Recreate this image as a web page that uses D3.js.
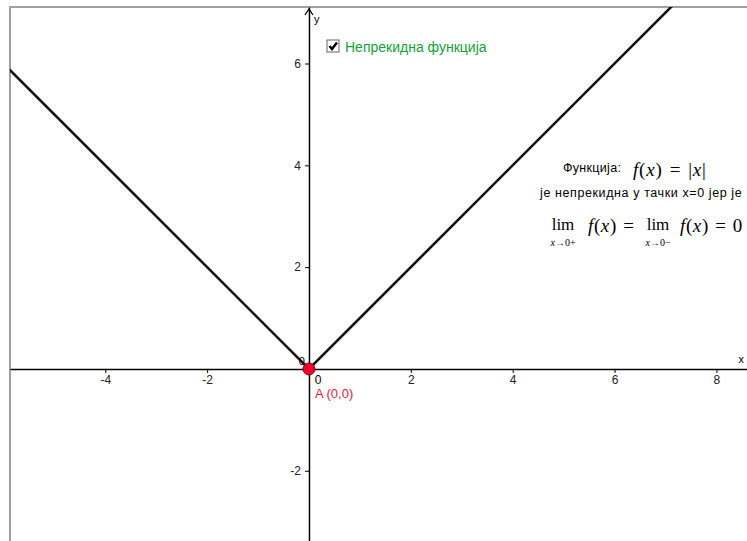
<!DOCTYPE html>
<html>
<head>
<meta charset="utf-8">
<script src="https://cdn.jsdelivr.net/npm/d3@7"></script>
<style>
  body { margin: 0; background: #fff; }
  svg { display: block; }
</style>
</head>
<body>
<svg id="chart" width="747" height="541"></svg>
<script>
// view window (graphics view of the applet)
const xView = [-5.87, 8.6]
const yView = [-3.38, 7.11]

const xTicks = [-4, -2, 2, 4, 6, 8]
const yTicks = [-2, 2, 4, 6]

// f(x) = |x|, vertices of the polyline
const curveX = [-6, 0, 8]
const curveY = [6, 0, 8]

const pointA = { name: "A", x: 0, y: 0 }

const checkboxLabel = "Непрекидна функција"
const textWord = "Функција:"
const textLine2 = "је непрекидна у тачки x=0 јер је"

const width = 747
const height = 541
const margin = { top: 7, left: 10, right: 0, bottom: 0 }

const sans = "'Liberation Sans', Arial, sans-serif"
const serif = "'Liberation Serif', 'DejaVu Serif', serif"

let svg = d3.select("#chart")

const xScale = d3.scaleLinear().domain(xView).range([margin.left, width - margin.right])
const yScale = d3.scaleLinear().domain(yView).range([height - margin.bottom, margin.top])

svg.append("defs").append("clipPath").attr("id", "plotclip")
  .append("rect")
  .attr("x", margin.left).attr("y", margin.top)
  .attr("width", width - margin.left).attr("height", height - margin.top)

// frame
svg.append("path")
  .attr("d", `M${margin.left},${height} V${margin.top} H${width}`)
  .attr("fill", "none")
  .attr("stroke", "#a0a0a0")
  .attr("stroke-width", 2)

// axes
const plain = (d) => String(d)
let g_x_axis = svg.append("g").attr("transform", `translate(0,${yScale(0)})`)
g_x_axis.call(
  d3.axisBottom(xScale).tickValues(xTicks).tickFormat(plain)
    .tickSize(4).tickSizeOuter(0).tickPadding(3)
)
let g_y_axis = svg.append("g").attr("transform", `translate(${xScale(0)},0)`)
g_y_axis.call(
  d3.axisLeft(yScale).tickValues(yTicks).tickFormat(plain)
    .tickSize(4).tickSizeOuter(0).tickPadding(4)
)

svg.selectAll(".domain").attr("stroke", "#000").attr("stroke-width", 1.5)
svg.selectAll(".tick line").attr("stroke", "#000")
svg.selectAll(".tick text").attr("font-family", sans).attr("font-size", 12).attr("fill", "#222")

// y axis top arrow
let yTop = yScale(yView[1]) + 2
svg.append("path")
  .attr("d", `M${xScale(0) - 4},${yTop + 6} L${xScale(0)},${yTop} L${xScale(0) + 4},${yTop + 6}`)
  .attr("fill", "none").attr("stroke", "#000").attr("stroke-width", 1.3)

svg.append("text").text("y")
  .attr("x", xScale(0) + 5).attr("y", yTop + 14)
  .attr("font-family", sans).attr("font-size", 11)
svg.append("text").text("x")
  .attr("x", width - 3).attr("y", yScale(0) - 6)
  .attr("text-anchor", "end")
  .attr("font-family", sans).attr("font-size", 11)

// zero labels
svg.append("text").text("0")
  .attr("x", xScale(0) - 4).attr("y", yScale(0) - 4)
  .attr("text-anchor", "end")
  .attr("font-family", sans).attr("font-size", 11)
svg.append("text").text("0")
  .attr("x", xScale(0) + 9).attr("y", yScale(0) + 15)
  .attr("text-anchor", "middle")
  .attr("font-family", sans).attr("font-size", 12)

// graph of the function
const line = d3.line().x((d) => xScale(d[0])).y((d) => yScale(d[1]))
svg.append("path")
  .datum(d3.zip(curveX, curveY))
  .attr("clip-path", "url(#plotclip)")
  .attr("d", line)
  .attr("fill", "none")
  .attr("stroke", "#111")
  .attr("stroke-width", 2.6)

// point A
svg.append("circle")
  .attr("cx", xScale(pointA.x)).attr("cy", yScale(pointA.y))
  .attr("r", 6)
  .attr("fill", "#f0002c")
  .attr("stroke", "#8a0018")
  .attr("stroke-width", 1)
svg.append("text")
  .text(`${pointA.name} (${pointA.x},${pointA.y})`)
  .attr("x", xScale(pointA.x) + 6).attr("y", yScale(pointA.y) + 29)
  .attr("font-family", sans).attr("font-size", 13)
  .attr("fill", "#e8173f")

// checkbox
let cb = svg.append("g").attr("transform", "translate(327,40)")
cb.append("rect")
  .attr("width", 12).attr("height", 12)
  .attr("fill", "#fff").attr("stroke", "#666").attr("stroke-width", 1)
cb.append("path")
  .attr("d", "M2.5,6 L5,9 L10,2.5")
  .attr("fill", "none").attr("stroke", "#000").attr("stroke-width", 2.4)
svg.append("text").text(checkboxLabel)
  .attr("x", 345).attr("y", 52)
  .attr("font-family", sans).attr("font-size", 14)
  .attr("fill", "#15a03c")

// explanation text
svg.append("text").text(textWord)
  .attr("x", 563).attr("y", 172)
  .attr("font-family", sans).attr("font-size", 12.5)
  .attr("letter-spacing", 0.3)

let fx = svg.append("text")
  .attr("x", 633).attr("y", 176)
  .attr("font-family", serif).attr("font-size", 19)
  .attr("word-spacing", 1.5).attr("letter-spacing", 0.8)
fx.append("tspan").attr("font-style", "italic").text("f")
fx.append("tspan").text("(")
fx.append("tspan").attr("font-style", "italic").text("x")
fx.append("tspan").text(") = |")
fx.append("tspan").attr("font-style", "italic").text("x")
fx.append("tspan").text("|")

svg.append("text").text(textLine2)
  .attr("x", 540).attr("y", 197)
  .attr("font-family", sans).attr("font-size", 12.5)
  .attr("letter-spacing", 0.6)

function limit(x0, sign) {
  svg.append("text").text("lim")
    .attr("x", x0 + 18).attr("y", 230)
    .attr("text-anchor", "middle")
    .attr("font-family", serif).attr("font-size", 17)
  let sub = svg.append("text")
    .attr("x", x0 + 18).attr("y", 246)
    .attr("text-anchor", "middle")
    .attr("font-family", serif).attr("font-size", 10)
  sub.append("tspan").attr("font-style", "italic").text("x")
  sub.append("tspan").text("→0" + sign)
}

function fOfX(x0, tail) {
  let t = svg.append("text")
    .attr("x", x0).attr("y", 232)
    .attr("font-family", serif).attr("font-size", 19)
    .attr("word-spacing", 1).attr("letter-spacing", 0.6)
  t.append("tspan").attr("font-style", "italic").text("f")
  t.append("tspan").text("(")
  t.append("tspan").attr("font-style", "italic").text("x")
  t.append("tspan").text(tail)
}

limit(545, "+")
fOfX(588, ") =")
limit(640, "−")
fOfX(680, ") = 0")
</script>
</body>
</html>
